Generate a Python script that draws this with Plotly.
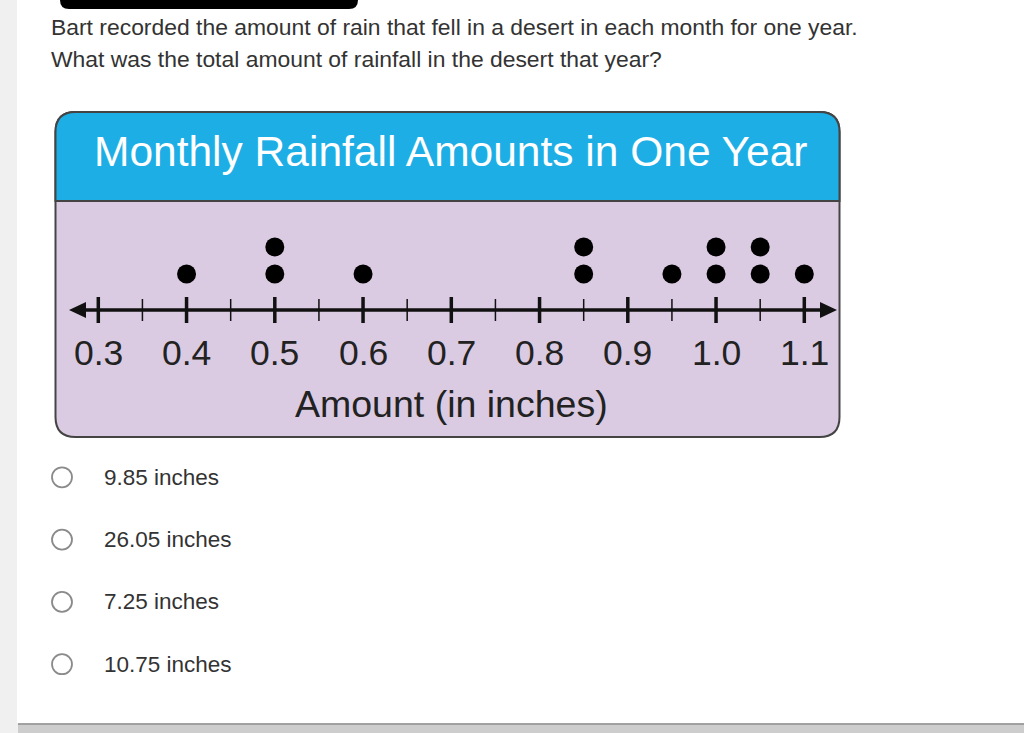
import plotly.graph_objects as go

# ---------------- data ----------------
amounts = [0.4, 0.5, 0.5, 0.6, 0.85, 0.85, 0.95, 1.0, 1.0, 1.05, 1.05, 1.1]
major_ticks = [0.3, 0.4, 0.5, 0.6, 0.7, 0.8, 0.9, 1.0, 1.1]
minor_ticks = [0.35, 0.45, 0.55, 0.65, 0.75, 0.85, 0.95, 1.05]
tick_labels = ["0.3", "0.4", "0.5", "0.6", "0.7", "0.8", "0.9", "1.0", "1.1"]
chart_title = "Monthly Rainfall Amounts in One Year"
axis_title = "Amount (in inches)"
question = ["Bart recorded the amount of rain that fell in a desert in each month for one year.",
            "What was the total amount of rainfall in the desert that year?"]
choices = ["9.85 inches", "26.05 inches", "7.25 inches", "10.75 inches"]

# stack counts for the dot plot
xs, ys = [], []
seen = {}
for a in amounts:
    seen[a] = seen.get(a, 0) + 1
    xs.append(a)
    ys.append(seen[a])

W, H = 1024, 733
FONT = "Liberation Sans, Arial, sans-serif"

def px(x):
    return x / W

def py(y):
    return 1 - y / H

# x scale: 0.3 -> 98.3 px, 1.1 -> 804.3 px
ppu = (804.3 - 98.3) / 0.8
x0 = 0.3 - 98.3 / ppu
x1 = x0 + W / ppu
# y scale: count 1 -> 274 px, spacing 27 px
ytop = 1 + 274 / 27
ybot = ytop - H / 27

shapes = []
annotations = []

# card background
shapes.append(dict(type="rect", xref="paper", yref="paper", x0=px(17), x1=px(1024),
                   y0=py(723), y1=py(0), fillcolor="white", line_width=0, layer="below"))
shapes.append(dict(type="rect", xref="paper", yref="paper", x0=px(18), x1=px(1024),
                   y0=py(733), y1=py(723.5), fillcolor="#cdcdcd", line_width=0, layer="below"))
shapes.append(dict(type="line", xref="paper", yref="paper", x0=px(18), x1=px(1024),
                   y0=py(724), y1=py(724), line=dict(color="#8f8f8f", width=1.5), layer="below"))

def rrect_path(l, t, r, b, rt, rb):
    pts = []
    pts.append(f"M {px(l + rt)},{py(t)}")
    pts.append(f"L {px(r - rt)},{py(t)}")
    pts.append(f"Q {px(r)},{py(t)} {px(r)},{py(t + rt)}")
    pts.append(f"L {px(r)},{py(b - rb)}")
    if rb > 0:
        pts.append(f"Q {px(r)},{py(b)} {px(r - rb)},{py(b)}")
    pts.append(f"L {px(l + rb)},{py(b)}")
    if rb > 0:
        pts.append(f"Q {px(l)},{py(b)} {px(l)},{py(b - rb)}")
    pts.append(f"L {px(l)},{py(t + rt)}")
    pts.append(f"Q {px(l)},{py(t)} {px(l + rt)},{py(t)}")
    pts.append("Z")
    return " ".join(pts)

# black bar at top
bar = (f"M {px(60)},{py(-2)} L {px(358)},{py(-2)} L {px(358)},{py(0)} "
       f"Q {px(358)},{py(9)} {px(349)},{py(9)} L {px(69)},{py(9)} "
       f"Q {px(60)},{py(9)} {px(60)},{py(0)} Z")
shapes.append(dict(type="path", xref="paper", yref="paper", path=bar,
                   fillcolor="#000000", line_width=0, layer="below"))

# chart box
shapes.append(dict(type="path", xref="paper", yref="paper",
                   path=rrect_path(55.5, 112, 839.5, 437, 20, 20),
                   fillcolor="#dacbe3", line=dict(color="#444444", width=2), layer="below"))
shapes.append(dict(type="path", xref="paper", yref="paper",
                   path=rrect_path(55.5, 112, 839.5, 201, 20, 0),
                   fillcolor="#1eaee6", line=dict(color="#444444", width=2), layer="below"))

# number line
AX_Y = 310
shapes.append(dict(type="line", xref="x", yref="paper", x0=0.3 - 15 / ppu, x1=1.1 + 18 / ppu,
                   y0=py(AX_Y), y1=py(AX_Y), line=dict(color="#111111", width=3.5), layer="below"))
for t in major_ticks:
    shapes.append(dict(type="line", xref="x", yref="paper", x0=t, x1=t,
                       y0=py(297), y1=py(323), line=dict(color="#111111", width=3.5), layer="below"))
for t in minor_ticks:
    shapes.append(dict(type="line", xref="x", yref="paper", x0=t, x1=t,
                       y0=py(299), y1=py(321), line=dict(color="#111111", width=1.5), layer="below"))
# arrowheads
la = f"M {px(69)},{py(AX_Y)} L {px(86)},{py(AX_Y - 8)} L {px(86)},{py(AX_Y + 8)} Z"
ra = f"M {px(837)},{py(AX_Y)} L {px(820)},{py(AX_Y - 8)} L {px(820)},{py(AX_Y + 8)} Z"
for p in (la, ra):
    shapes.append(dict(type="path", xref="paper", yref="paper", path=p,
                       fillcolor="#111111", line_width=0, layer="below"))

for t, lab in zip(major_ticks, tick_labels):
    annotations.append(dict(x=t, xref="x", y=py(353), yref="paper", text=lab, showarrow=False,
                            xanchor="center", yanchor="middle",
                            font=dict(family=FONT, size=35.5, color="#222222")))
annotations.append(dict(x=0.7, xref="x", y=py(404), yref="paper", text=axis_title, showarrow=False,
                        xanchor="center", yanchor="middle",
                        font=dict(family=FONT, size=37.5, color="#222222")))
annotations.append(dict(x=px(450), xref="paper", y=py(151), yref="paper", text=chart_title,
                        showarrow=False, xanchor="center", yanchor="middle",
                        font=dict(family=FONT, size=42.5, color="#ffffff")))

# question text
for i, q in enumerate(question):
    annotations.append(dict(x=px(50), xref="paper", y=py(27 + 32.5 * i), yref="paper", text=q,
                            showarrow=False, xanchor="left", yanchor="middle", borderpad=0,
                            font=dict(family=FONT, size=22.9, color="#333333")))

# answer choices
for i, c in enumerate(choices):
    cy = 477.3 + 62.3 * i
    shapes.append(dict(type="circle", xref="paper", yref="paper", x0=px(52), x1=px(72),
                       y0=py(cy + 10), y1=py(cy - 10), fillcolor="white",
                       line=dict(color="#8a8a8a", width=1.8), layer="below"))
    annotations.append(dict(x=px(103), xref="paper", y=py(cy), yref="paper", text=c,
                            showarrow=False, xanchor="left", yanchor="middle", borderpad=0,
                            font=dict(family=FONT, size=22.5, color="#333333")))

fig = go.Figure()
fig.add_trace(go.Scatter(x=xs, y=ys, mode="markers",
                         marker=dict(color="#000000", size=19, line_width=0),
                         hoverinfo="skip", showlegend=False))

fig.update_layout(
    width=W, height=H,
    margin=dict(l=0, r=0, t=0, b=0, pad=0),
    paper_bgcolor="#f0f0f0",
    plot_bgcolor="rgba(0,0,0,0)",
    xaxis=dict(range=[x0, x1], visible=False, fixedrange=True, domain=[0, 1]),
    yaxis=dict(range=[ybot, ytop], visible=False, fixedrange=True, domain=[0, 1]),
    shapes=shapes,
    annotations=annotations,
    showlegend=False,
)

fig.write_html("out.html")
